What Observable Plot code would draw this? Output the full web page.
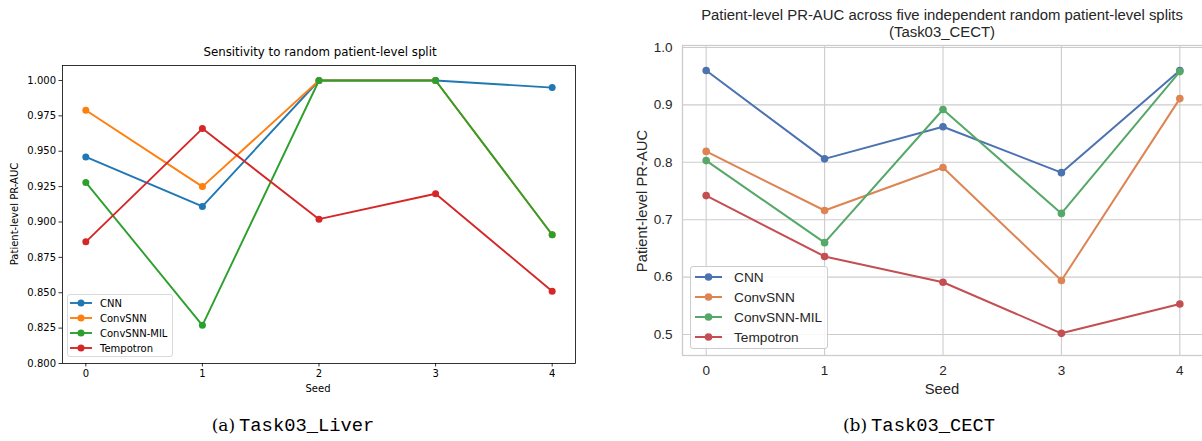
<!DOCTYPE html>
<html>
<head>
<meta charset="utf-8">
<script src="https://cdn.jsdelivr.net/npm/d3@7"></script>
<script src="https://cdn.jsdelivr.net/npm/@observablehq/plot@0.6"></script>
<style>
  html, body { margin: 0; padding: 0; background: #fff; }
  body { width: 1202px; height: 441px; overflow: hidden; position: relative; }
  .abs { position: absolute; white-space: nowrap; line-height: 1; }
  .panel { position: absolute; top: 0; }
  .legend { position: absolute; box-sizing: border-box; background: rgba(255,255,255,0.85); }
</style>
</head>
<body>
<script>
// ---------- data ----------
const seeds = [0, 1, 2, 3, 4];
const models = ["CNN", "ConvSNN", "ConvSNN-MIL", "Tempotron"];

// (a) Task03_Liver
const liverCNN       = [0.946, 0.911, 1.000, 1.000, 0.995];
const liverConvSNN   = [0.979, 0.925, 1.000, 1.000, 0.891];
const liverMIL       = [0.928, 0.827, 1.000, 1.000, 0.891];
const liverTempotron = [0.886, 0.966, 0.902, 0.920, 0.851];
const liverYTicks = [0.800, 0.825, 0.850, 0.875, 0.900, 0.925, 0.950, 0.975, 1.000];

// (b) Task03_CECT
const cectCNN       = [0.960, 0.806, 0.862, 0.782, 0.960];
const cectConvSNN   = [0.819, 0.716, 0.791, 0.594, 0.911];
const cectMIL       = [0.803, 0.660, 0.892, 0.711, 0.958];
const cectTempotron = [0.742, 0.636, 0.591, 0.502, 0.553];
const cectYTicks = [0.5, 0.6, 0.7, 0.8, 0.9, 1.0];

const tab10 = ["#1f77b4", "#ff7f0e", "#2ca02c", "#d62728"];
const deep  = ["#4c72b0", "#dd8452", "#55a868", "#c44e52"];

function tidy(seriesList) {
  const rows = [];
  seriesList.forEach((vals, i) => vals.forEach((v, j) => rows.push({model: models[i], seed: seeds[j], value: v})));
  return rows;
}
const liverData = tidy([liverCNN, liverConvSNN, liverMIL, liverTempotron]);
const cectData  = tidy([cectCNN, cectConvSNN, cectMIL, cectTempotron]);

function seriesMarks(data, strokeWidth, r) {
  return models.flatMap(m => {
    const d = data.filter(row => row.model === m);
    return [
      Plot.line(d, {x: "seed", y: "value", stroke: "model", strokeWidth}),
      Plot.dot(d, {x: "seed", y: "value", fill: "model", r, stroke: "none"})
    ];
  });
}

// ---------- left panel ----------
const left = Plot.plot({
  width: 600, height: 400,
  marginLeft: 62, marginRight: 25, marginTop: 65, marginBottom: 37,
  style: {fontFamily: "DejaVu Sans", fontSize: "10px", color: "#000", background: "transparent", overflow: "visible"},
  x: {domain: [-0.2, 4.2], label: null},
  y: {domain: [0.8, 1.0106], label: null},
  color: {domain: models, range: tab10},
  marks: [
    ...seriesMarks(liverData, 1.9, 3.5),
    Plot.frame({stroke: "#000", strokeWidth: 0.8}),
    Plot.axisX({ticks: seeds, tickFormat: d => String(d), tickSize: 3.5, tickPadding: 3, strokeWidth: 0.8, label: null}),
    Plot.axisY({ticks: liverYTicks, tickFormat: ".3f", tickSize: 3.5, tickPadding: 3, strokeWidth: 0.8, label: null})
  ]
});
left.classList.add("panel");
left.style.left = "0px";
document.body.appendChild(left);

// ---------- right panel ----------
const right = Plot.plot({
  width: 604, height: 400,
  marginLeft: 82, marginRight: 1, marginTop: 45, marginBottom: 45,
  style: {fontFamily: "Liberation Sans, Arial, sans-serif", fontSize: "13.5px", color: "#262626", background: "transparent", overflow: "visible"},
  x: {domain: [-0.2, 4.2], label: null},
  y: {domain: [0.4634, 1.0035], label: null},
  color: {domain: models, range: deep},
  marks: [
    Plot.gridX({ticks: seeds, stroke: "#cccccc", strokeOpacity: 1, strokeWidth: 1.1}),
    Plot.gridY({ticks: cectYTicks, stroke: "#cccccc", strokeOpacity: 1, strokeWidth: 1.1}),
    Plot.frame({stroke: "#cccccc", strokeWidth: 1.3}),
    ...seriesMarks(cectData, 2, 3.8),
    Plot.axisX({ticks: seeds, tickFormat: d => String(d), tickSize: 0, tickPadding: 10, label: null}),
    Plot.axisY({ticks: cectYTicks, tickFormat: ".1f", tickSize: 0, tickPadding: 10, label: null})
  ]
});
right.classList.add("panel");
right.style.left = "600px";
document.body.appendChild(right);

// ---------- texts ----------
function addText(text, x, y, style, rotate) {
  const el = document.createElement("div");
  el.className = "abs";
  el.textContent = text;
  el.style.left = x + "px";
  el.style.top = y + "px";
  el.style.transform = "translate(-50%, -50%)" + (rotate ? " rotate(-90deg)" : "");
  Object.assign(el.style, style);
  document.body.appendChild(el);
  return el;
}
const dv = {fontFamily: "DejaVu Sans", color: "#000"};
const ar = {fontFamily: "Liberation Sans, Arial, sans-serif", color: "#262626"};

addText("Sensitivity to random patient-level split", 320, 53, {...dv, fontSize: "11.8px"});
addText("Patient-level PR-AUC", 15, 214, {...dv, fontSize: "10px"}, true);
addText("Seed", 318, 389, {...dv, fontSize: "10px"});

addText("Patient-level PR-AUC across five independent random patient-level splits", 942, 15, {...ar, fontSize: "14.9px"});
addText("(Task03_CECT)", 942, 32, {...ar, fontSize: "14.9px"});
addText("Patient-level PR-AUC", 642, 201, {...ar, fontSize: "14.8px"}, true);
addText("Seed", 942, 389, {...ar, fontSize: "14.8px"});

function caption(tag, name, x) {
  const el = document.createElement("div");
  el.className = "abs";
  el.style.left = x + "px";
  el.style.top = "426px";
  el.style.transform = "translate(-50%, -50%)";
  el.style.color = "#000";
  el.innerHTML = `<span style="font-family:'DejaVu Serif','Liberation Serif',serif;font-size:17px">${tag}</span>&nbsp;` +
    `<span style="font-family:'Liberation Mono','DejaVu Sans Mono',monospace;font-size:18.8px">${name}</span>`;
  document.body.appendChild(el);
}
caption("(a)", "Task03_Liver", 293);
caption("(b)", "Task03_CECT", 919);

// ---------- legends ----------
function legend(x, y, w, h, colors, rowY, lineX0, lineX1, textX, r, sw, font, fontSize, textColor, border) {
  const box = document.createElement("div");
  box.className = "legend";
  Object.assign(box.style, {left: x + "px", top: y + "px", width: w + "px", height: h + "px",
    border: "1px solid " + border, borderRadius: "3px"});
  document.body.appendChild(box);
  const svg = d3.select(document.body).append("svg")
    .attr("width", 1202).attr("height", 441)
    .style("position", "absolute").style("left", "0px").style("top", "0px").style("pointer-events", "none");
  models.forEach((m, i) => {
    const yy = rowY[i];
    svg.append("line").attr("x1", lineX0).attr("x2", lineX1).attr("y1", yy).attr("y2", yy)
      .attr("stroke", colors[i]).attr("stroke-width", sw);
    svg.append("circle").attr("cx", (lineX0 + lineX1) / 2).attr("cy", yy).attr("r", r).attr("fill", colors[i]);
    svg.append("text").attr("x", textX).attr("y", yy).attr("dy", "0.35em")
      .attr("font-family", font).attr("font-size", fontSize).attr("fill", textColor).text(m);
  });
}
legend(67, 294, 106, 63, tab10, [303, 318, 333, 348], 70, 92, 100, 3.5, 1.9, "DejaVu Sans", 10, "#000", "#d9d9d9");
legend(690, 266, 138, 83, deep, [277, 297, 317, 337], 695, 722, 734, 3.8, 2, "Liberation Sans, Arial, sans-serif", 13.7, "#262626", "#cccccc");
</script>
</body>
</html>
